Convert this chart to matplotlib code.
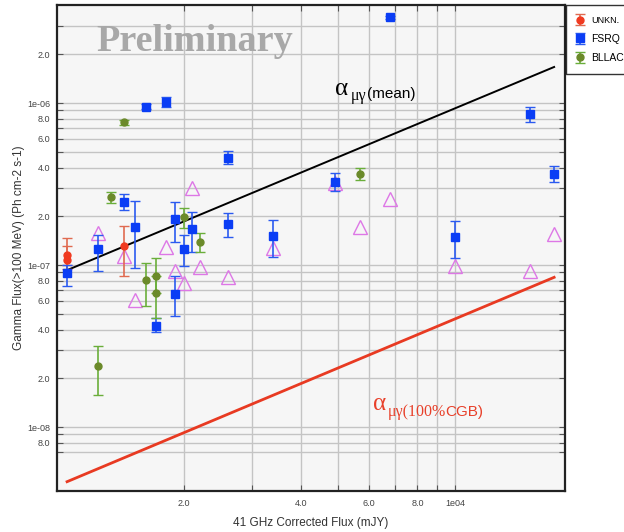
import numpy as np
import matplotlib
matplotlib.use("Agg")
from matplotlib import pyplot as plt
from matplotlib.ticker import FixedLocator, FixedFormatter, NullFormatter

# 41 GHz corrected flux (mJy) vs gamma flux (>100 MeV), with error bar ends
unk_x = [1000, 1000, 1400]
unk_y = [1.16e-7, 1.07e-7, 1.32e-7]
unk_lo = [1.00e-7, 0.95e-7, 8.5e-8]
unk_hi = [1.46e-7, 1.31e-7, 1.74e-7]

fsrq_x = [1000, 1200, 1400, 1500, 1600, 1700, 1800, 1900, 1900, 2000,
          2100, 2600, 2600, 3400, 4900, 6800, 10000, 15600, 18000]
fsrq_y = [8.9e-8, 1.25e-7, 2.46e-7, 1.72e-7, 9.5e-7, 4.2e-8, 1.02e-6, 1.92e-7, 6.67e-8, 1.25e-7,
          1.67e-7, 4.6e-7, 1.79e-7, 1.51e-7, 3.27e-7, 3.38e-6, 1.48e-7, 8.55e-7, 3.65e-7]
fsrq_lo = [7.4e-8, 9.2e-8, 2.18e-7, 9.6e-8, 9.2e-7, 3.87e-8, 9.4e-7, 1.39e-7, 4.85e-8, 9.8e-8,
           1.21e-7, 4.2e-7, 1.5e-7, 1.12e-7, 2.88e-7, 3.3e-6, 1.1e-7, 7.67e-7, 3.24e-7]
fsrq_hi = [1.0e-7, 1.53e-7, 2.74e-7, 2.49e-7, 9.8e-7, 4.7e-8, 1.09e-6, 2.46e-7, 8.5e-8, 1.53e-7,
           2.14e-7, 5.08e-7, 2.11e-7, 1.9e-7, 3.72e-7, 3.46e-6, 1.88e-7, 9.5e-7, 4.08e-7]

bllac_x = [1200, 1300, 1400, 1600, 1700, 1700, 2000, 2200, 5700]
bllac_y = [2.38e-8, 2.64e-7, 7.6e-7, 8.05e-8, 8.6e-8, 6.7e-8, 1.99e-7, 1.39e-7, 3.65e-7]
bllac_lo = [1.58e-8, 2.43e-7, 7.3e-7, 5.6e-8, 6.7e-8, 4.7e-8, 1.69e-7, 1.21e-7, 3.35e-7]
bllac_hi = [3.16e-8, 2.83e-7, 7.85e-7, 1.03e-7, 1.1e-7, 8.6e-8, 2.24e-7, 1.57e-7, 3.95e-7]

# open triangles (no error bars)
tri_x = [1200, 1400, 1500, 1800, 1900, 2000, 2100, 2200, 2600, 3400,
         4900, 5700, 6800, 10000, 15600, 18000]
tri_y = [1.57e-7, 1.14e-7, 6.1e-8, 1.30e-7, 9.2e-8, 7.8e-8, 3.0e-7, 9.7e-8, 8.4e-8, 1.27e-7,
         3.2e-7, 1.71e-7, 2.54e-7, 9.8e-8, 9.2e-8, 1.55e-7]

# alpha lines
line_x = [1000, 18000]
mean_y = [9.3e-8, 1.67e-6]
cgb_y = [4.6e-9, 8.4e-8]

W, H = 624, 532
fig = plt.figure(figsize=(W / 100, H / 100), dpi=100)
ax = fig.add_axes([57 / W, 1 - 491 / H, (565 - 57) / W, (491 - 5) / H])
ax.set_facecolor("#f6f6f6")
ax.set_xscale("log")
ax.set_yscale("log")
ax.set_xlim(942, 19200)
ax.set_ylim(4.03e-9, 4.03e-6)

# grid lines
xmaj = [2000, 4000, 6000, 8000, 10000]
xmin = [3000, 5000, 7000, 9000]
ymaj = [8e-9, 1e-8, 2e-8, 4e-8, 6e-8, 8e-8, 1e-7, 2e-7, 4e-7, 6e-7, 8e-7, 1e-6, 2e-6]
ymaj_lab = ["8.0", "1e-08", "2.0", "4.0", "6.0", "8.0", "1e-07", "2.0", "4.0", "6.0", "8.0", "1e-06", "2.0"]
ymin = [7e-9, 9e-9, 3e-8, 5e-8, 7e-8, 9e-8, 3e-7, 5e-7, 7e-7, 9e-7, 3e-6]
ax.xaxis.set_major_locator(FixedLocator(xmaj))
ax.xaxis.set_major_formatter(FixedFormatter(["2.0", "4.0", "6.0", "8.0", "1e04"]))
ax.xaxis.set_minor_locator(FixedLocator(xmin))
ax.xaxis.set_minor_formatter(NullFormatter())
ax.yaxis.set_major_locator(FixedLocator(ymaj))
ax.yaxis.set_major_formatter(FixedFormatter(ymaj_lab))
ax.yaxis.set_minor_locator(FixedLocator(ymin))
ax.yaxis.set_minor_formatter(NullFormatter())
ax.grid(True, which="both", color="#c4c4c4", linewidth=1.0)
ax.set_axisbelow(True)
ax.tick_params(which="both", direction="in", top=True, right=True, length=4,
               width=0.8, color="#555555", labelsize=6.5, labelcolor="#444444")
ax.tick_params(axis="y", pad=5)
ax.tick_params(axis="x", pad=6)
for lab in ax.get_xticklabels() + ax.get_yticklabels():
    lab.set_family("Liberation Sans")
for s in ax.spines.values():
    s.set_linewidth(1.6)
    s.set_color("#222222")

ax.plot(line_x, mean_y, color="black", lw=1.4, zorder=3)
ax.plot(line_x, cgb_y, color="#e83a22", lw=2.0, zorder=3)

ax.plot(tri_x, tri_y, linestyle="none", marker="^", ms=10, mfc="none",
        mec="#dd77e6", mew=1.0, zorder=4)

def draw(xs, ys, lo, hi, fmt, col, ecol, ms, label):
    err = [np.array(ys) - np.array(lo), np.array(hi) - np.array(ys)]
    return ax.errorbar(xs, ys, yerr=err, fmt=fmt, color=col, ecolor=ecol, ms=ms,
                       elinewidth=1.2, capsize=3.5, capthick=1.0, zorder=5, label=label)

h1 = draw(unk_x, unk_y, unk_lo, unk_hi, "o", "#f03a20", "#e06a50", 5, "UNKN.")
h2 = draw(fsrq_x, fsrq_y, fsrq_lo, fsrq_hi, "s", "#0a3df5", "#2a5af0", 5.5, "FSRQ")
h3 = draw(bllac_x, bllac_y, bllac_lo, bllac_hi, "o", "#6b8a2a", "#6aae3a", 5, "BLLAC")

ax.set_xlabel("41 GHz Corrected Flux (mJY)", fontsize=8.5, color="#333333",
              family="Liberation Sans", labelpad=6)
ax.set_ylabel("Gamma Flux(>100 MeV) (Ph cm-2 s-1)", fontsize=8.5, color="#333333",
              family="Liberation Sans")
ax.yaxis.set_label_coords((25 - 57) / 508, 0.5)

leg = fig.legend(handles=[h1, h2, h3], loc="upper left", bbox_to_anchor=(566 / W, 1 - 5 / H),
                 frameon=True, fancybox=False, edgecolor="black",
                 handlelength=0.6, handletextpad=0.8, labelspacing=0.85, borderpad=1.05,
                 borderaxespad=0.0, prop={"family": "Liberation Sans", "size": 7.5})
leg.get_frame().set_linewidth(1.0)
leg.get_texts()[0].set_fontsize(6.5)

def px(x, y):
    return x / W, 1 - y / H

fig.text(*px(195, 51), "Preliminary", fontsize=27.5, fontweight="bold",
         family="Liberation Serif", color="#a8a8a8", ha="center", va="baseline")

fig.text(*px(335, 95), "\u03b1", fontsize=18, family="Liberation Serif", va="baseline")
fig.text(*px(351, 100.5), "\u03bc\u03b3", fontsize=11.5, family="Liberation Serif", va="baseline")
fig.text(*px(367, 98), "(mean)", fontsize=11, family="Liberation Sans", va="baseline")

red = "#e8402a"
fig.text(*px(373, 410), "\u03b1", fontsize=18, family="Liberation Serif", color=red, va="baseline")
fig.text(*px(388, 416), "\u03bc\u03b3(100%", fontsize=11.5, family="Liberation Serif", color=red, va="baseline")
fig.text(*px(445, 416), "CGB)", fontsize=11, family="Liberation Sans", color=red, va="baseline")

plt.savefig("out.png", dpi=100)
